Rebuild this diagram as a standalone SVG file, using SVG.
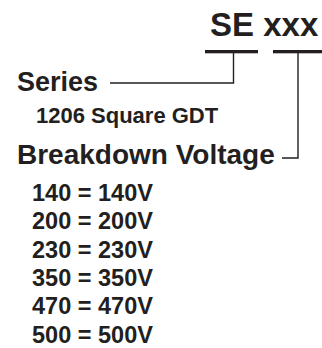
<svg xmlns="http://www.w3.org/2000/svg" width="322" height="348" viewBox="0 0 322 348">
<style>
text{font-family:"Liberation Sans",Arial,Helvetica,sans-serif;font-weight:bold;fill:#231f20}
.bar{fill:#231f20}
.ln{stroke:#231f20;stroke-width:1.4;fill:none}
.big{font-size:33px}
.h{font-size:27px}
.h2{font-size:28px}
.sub{font-size:22px}
.v{font-size:23.5px}
</style>
<rect width="322" height="348" fill="#ffffff"/>
<g id="code">
<text class="big" x="210" y="36">SE xxx</text>
<rect class="bar" x="205" y="50" width="53" height="3.3"/>
<rect class="bar" x="273" y="50" width="49" height="3.3"/>
</g>
<g id="series">
<text class="h" x="17" y="91">Series</text>
<text class="sub" x="36" y="123">1206 Square GDT</text>
</g>
<g id="breakdown">
<text class="h2" x="17" y="164">Breakdown Voltage</text>
<text class="v" x="32" y="201">140 = 140V</text>
<text class="v" x="32" y="229.3">200 = 200V</text>
<text class="v" x="32" y="257.6">230 = 230V</text>
<text class="v" x="32" y="285.9">350 = 350V</text>
<text class="v" x="32" y="314.2">470 = 470V</text>
<text class="v" x="32" y="342.5">500 = 500V</text>
</g>
<g id="connectors">
<polyline class="ln" points="233.5,53 233.5,83 110,83"/>
<polyline class="ln" points="298,53 298,158 282,158"/>
</g>
</svg>
